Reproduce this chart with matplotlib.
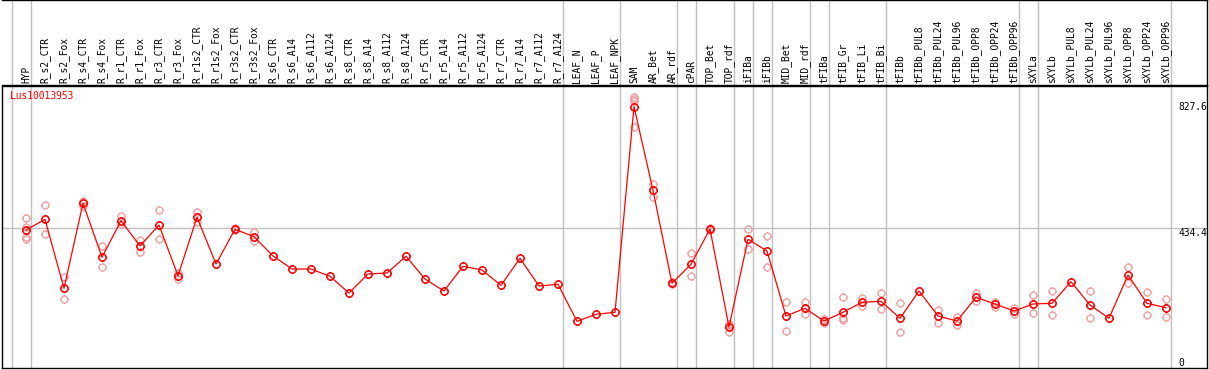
import matplotlib
matplotlib.use("Agg")
import matplotlib.pyplot as plt
from matplotlib.path import Path

# sample labels, one column each
labels = ["HYP", "R_s2_CTR", "R_s2_Fox", "R_s4_CTR", "R_s4_Fox", "R_r1_CTR", "R_r1_Fox",
          "R_r3_CTR", "R_r3_Fox", "R_r1s2_CTR", "R_r1s2_Fox", "R_r3s2_CTR", "R_r3s2_Fox",
          "R_s6_CTR", "R_s6_A14", "R_s6_A112", "R_s6_A124", "R_s8_CTR", "R_s8_A14",
          "R_s8_A112", "R_s8_A124", "R_r5_CTR", "R_r5_A14", "R_r5_A112", "R_r5_A124",
          "R_r7_CTR", "R_r7_A14", "R_r7_A112", "R_r7_A124", "LEAF_N", "LEAF_P", "LEAF_NPK",
          "SAM", "AR_Bet", "AR_rdf", "cPAR", "TOP_Bet", "TOP_rdf", "iFIBa", "iFIBb",
          "MID_Bet", "MID_rdf", "tFIBa", "tFIB_Gr", "tFIB_Li", "tFIB_Bi", "tFIBb",
          "tFIBb_PUL8", "tFIBb_PUL24", "tFIBb_PUL96", "tFIBb_OPP8", "tFIBb_OPP24",
          "tFIBb_OPP96", "sXYLa", "sXYLb", "sXYLb_PUL8", "sXYLb_PUL24", "sXYLb_PUL96",
          "sXYLb_OPP8", "sXYLb_OPP24", "sXYLb_OPP96"]

# mean expression per sample
means = [429.0, 463.5, 240.8, 515.2, 340.9, 459.0, 377.3, 445.1, 281.5, 470.0, 319.2,
         431.2, 407.4, 345.1, 303.1, 303.1, 279.5, 225.6, 287.0, 290.2, 344.1, 270.8,
         232.1, 311.8, 299.9, 250.5, 337.6, 248.2, 253.7, 134.3, 156.9, 163.3,
         827.6, 557.1, 256.9, 318.3, 432.2, 115.9, 399.0, 361.2, 151.4, 176.2,
         135.2, 163.3, 195.6, 198.8, 144.0, 232.1, 151.4, 135.2, 211.7, 190.1, 167.5,
         190.1, 192.4, 262.1, 186.9, 144.0, 283.7, 192.4, 178.2]

# replicate values (empty = single sample)
reps = [[466.8, 439.6, 405.4, 399.9], [509.7, 415.1], [278.2, 205.3], [523.6, 506.5],
        [377.3, 308.6], [475.1, 448.4], [396.7, 358.9], [493.5, 399.0], [289.2, 270.8],
        [486.1, 453.8], [], [434.5, 428.0], [423.5, 393.5],
        [], [], [], [], [], [], [], [], [], [], [], [], [], [], [], [], [], [], [],
        [859.9, 851.8, 843.8, 762.4], [577.5, 536.5], [261.1, 253.1], [353.8, 279.5],
        [436.4, 428.0], [122.3, 100.7, 124.7], [431.2, 367.7], [408.6, 308.6],
        [195.6, 103.9], [195.6, 158.8], [140.7, 127.8], [211.7, 144.0, 137.5],
        [208.5, 184.6], [224.7, 173.0], [192.4, 98.8], [], [170.8, 127.8],
        [149.1, 122.3], [224.7, 199.8], [195.6, 181.4], [176.2, 156.9],
        [219.2, 160.1], [232.1, 154.6], [], [232.1, 144.0], [], [308.6, 256.9],
        [227.9, 154.6], [206.3, 147.2]]

# first index of each sample group
group_starts = [0, 1, 29, 32, 35, 36, 38, 39, 40, 42, 43, 46, 53, 54, 61]
gene = "Lus10013953"

W, H = 1209, 370
fig = plt.figure(figsize=(W / 100, H / 100), dpi=100)
mono = "DejaVu Sans Mono"
fs = 6.9

xl = ((2 - 26) / 19, (1207 - 26) / 19)
ax = fig.add_axes([2 / W, (H - 368) / H, 1205 / W, 282 / H])
hdr = fig.add_axes([2 / W, (H - 85) / H, 1205 / W, 85 / H])

# circle with small nubs, like the original markers
circ = Path.unit_circle()
nubs = []
for dx, dy in [(1, 0), (-1, 0), (0, 1), (0, -1)]:
    nubs.append(Path([(dx, dy), (dx * 1.2, dy * 1.2)], [Path.MOVETO, Path.LINETO]))
marker = Path.make_compound_path(circ, *nubs)

x = list(range(len(labels)))
rx, ry = [], []
for i, r in enumerate(reps):
    for v in r:
        rx.append(i)
        ry.append(v)

ax.plot(rx, ry, linestyle="none", marker=marker, markersize=6.0, markerfacecolor="none",
        markeredgecolor="#f29a9a", markeredgewidth=0.9, zorder=3)
ax.plot(x, means, color="#ff0000", lw=0.9, marker=marker, markersize=6.2,
        markerfacecolor="none", markeredgecolor="#ff0000", markeredgewidth=1.1, zorder=4)

for a in (ax, hdr):
    for g in group_starts:
        a.axvline(g - 0.763, color="#c0c0c0", lw=1, zorder=1)
    a.set_xlim(*xl)
    a.set_xticks([])
    a.set_yticks([])

ax.axhline(434.4, color="#c0c0c0", lw=1, zorder=1)
ax.set_ylim(-16.5, 893.8)
for s in ax.spines.values():
    s.set_color("black")
    s.set_linewidth(1)

xlab = (1178.5 - 26) / 19
ax.text(xlab, 827.6, "827.6", fontsize=fs, family=mono, va="center", ha="left")
ax.text(xlab, 434.4, "434.4", fontsize=fs, family=mono, va="top", ha="left")
ax.text(xlab, 0, "0", fontsize=fs, family=mono, va="center", ha="left")
ax.text(8 / 1205, 1 - 5 / 282, gene, transform=ax.transAxes, color="#ff0000",
        fontsize=fs, family=mono, va="top", ha="left")

hdr.set_ylim(0, 85)
hdr.spines["left"].set_visible(False)
for k in ("top", "bottom", "right"):
    hdr.spines[k].set_color("black")
    hdr.spines[k].set_linewidth(1)
for i, lab in enumerate(labels):
    hdr.text(i, 2.3, lab, rotation=90, fontsize=fs, family=mono,
             ha="center", va="bottom")

fig.savefig("out.png", dpi=100)
